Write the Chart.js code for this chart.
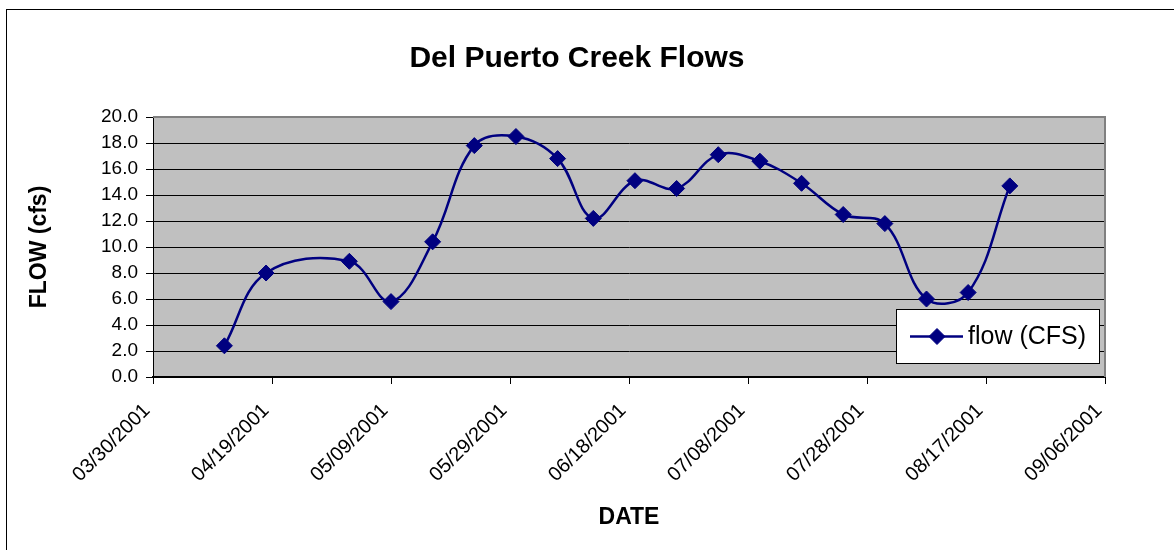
<!DOCTYPE html>
<html>
<head>
<meta charset="utf-8">
<title>Del Puerto Creek Flows</title>
<script src="https://cdn.jsdelivr.net/npm/chart.js@4.4.1/dist/chart.umd.min.js"></script>
<style>
    html, body { margin: 0; padding: 0; background: #fff; }
</style>
</head>
<body>
<canvas id="flowChart" width="1174" height="550"></canvas>
<script>
/* ---------------------------
   Data
---------------------------- */
const sampleDates = [
    "04/11/2001", "04/18/2001", "05/02/2001", "05/09/2001", "05/16/2001",
    "05/23/2001", "05/30/2001", "06/06/2001", "06/12/2001", "06/19/2001",
    "06/26/2001", "07/03/2001", "07/10/2001", "07/17/2001", "07/24/2001",
    "07/31/2001", "08/07/2001", "08/14/2001", "08/21/2001"
];
const flowValues = [
    2.4, 8.0, 8.9, 5.8, 10.4,
    17.8, 18.5, 16.8, 12.2, 15.1,
    14.5, 17.1, 16.6, 14.9, 12.5,
    11.8, 6.0, 6.5, 14.7
];
const axisDates = [
    "03/30/2001", "04/19/2001", "05/09/2001", "05/29/2001", "06/18/2001",
    "07/08/2001", "07/28/2001", "08/17/2001", "09/06/2001"
];
const seriesLabel = "flow (CFS)";
const chartTitle = "Del Puerto Creek Flows";

const FONT = "'Liberation Sans', Arial, sans-serif";
const NAVY = "#000080";

// days since the first axis date (keeps the x scale linear, like Excel's date axis)
function toDay(s) {
    const [m, d, y] = s.split("/").map(Number);
    return Date.UTC(y, m - 1, d) / 86400000;
}
const day0 = toDay(axisDates[0]);
const points = sampleDates.map((d, i) => ({ x: toDay(d) - day0, y: flowValues[i] }));
const axisDays = axisDates.map(d => toDay(d) - day0);

/* ---------------------------
   Frame, plot box, title, legend
---------------------------- */
const excelLook = {
    id: "excelLook",
    beforeDraw(chart) {
        const { ctx, chartArea: a } = chart;
        ctx.save();
        ctx.fillStyle = "#fff";
        ctx.fillRect(0, 0, chart.width, chart.height);
        ctx.strokeStyle = "#000";
        ctx.lineWidth = 1;
        ctx.strokeRect(6.5, 9.5, 1300, 700);
        ctx.fillStyle = "#c0c0c0";
        ctx.fillRect(a.left, a.top, a.right - a.left, a.bottom - a.top);
        ctx.restore();
    },
    beforeDatasetsDraw(chart) {
        const { ctx, chartArea: a } = chart;
        ctx.save();
        ctx.strokeStyle = "#808080";
        ctx.lineWidth = 2;
        ctx.beginPath();
        ctx.moveTo(a.left, a.top);
        ctx.lineTo(a.right, a.top);
        ctx.lineTo(a.right, a.bottom);
        ctx.stroke();
        ctx.restore();
    },
    afterDraw(chart) {
        const { ctx } = chart;
        const ds = chart.data.datasets[0];
        ctx.save();

        // title
        ctx.fillStyle = "#000";
        ctx.font = "bold 30px " + FONT;
        ctx.textAlign = "center";
        ctx.textBaseline = "middle";
        ctx.fillText(chartTitle, 577, 59);

        // legend box
        const lx = 896.5, ly = 309.5, lw = 203, lh = 54;
        ctx.fillStyle = "#fff";
        ctx.fillRect(lx, ly, lw, lh);
        ctx.strokeStyle = "#000";
        ctx.lineWidth = 1;
        ctx.strokeRect(lx, ly, lw, lh);

        const cy = ly + lh / 2;
        ctx.strokeStyle = ds.borderColor;
        ctx.lineWidth = ds.borderWidth;
        ctx.beginPath();
        ctx.moveTo(910, cy);
        ctx.lineTo(963, cy);
        ctx.stroke();
        ctx.fillStyle = ds.pointBackgroundColor;
        ctx.strokeStyle = ds.pointBorderColor;
        ctx.lineWidth = 1;
        Chart.helpers.drawPoint(ctx, {
            pointStyle: ds.pointStyle,
            radius: ds.pointRadius,
            borderWidth: 1
        }, 937, cy);

        ctx.fillStyle = "#000";
        ctx.font = "25px " + FONT;
        ctx.textAlign = "left";
        ctx.fillText(seriesLabel, 968, cy + 1);
        ctx.restore();
    }
};

/* ---------------------------
   Chart
---------------------------- */
const ctx = document.getElementById("flowChart").getContext("2d");

new Chart(ctx, {
    type: "line",
    data: {
        datasets: [{
            label: seriesLabel,
            data: points,
            borderColor: NAVY,
            borderWidth: 2.5,
            tension: 0.38,
            pointStyle: "rectRot",
            pointRadius: 8,
            pointBackgroundColor: NAVY,
            pointBorderColor: NAVY,
            pointBorderWidth: 1
        }]
    },
    options: {
        responsive: false,
        animation: false,
        layout: {
            padding: { left: 7, top: 117, right: 69, bottom: 0 }
        },
        scales: {
            x: {
                type: "linear",
                min: axisDays[0],
                max: axisDays[axisDays.length - 1],
                afterBuildTicks: scale => {
                    scale.ticks = axisDays.map(v => ({ value: v }));
                },
                afterFit: scale => { scale.height = 173; },
                ticks: {
                    autoSkip: false,
                    minRotation: 45,
                    maxRotation: 45,
                    padding: 15,
                    labelOffset: -6,
                    color: "#000",
                    font: { family: FONT, size: 20 },
                    callback: value => axisDates[axisDays.indexOf(value)]
                },
                grid: {
                    drawOnChartArea: false,
                    drawTicks: true,
                    tickLength: 7,
                    tickColor: "#000"
                },
                border: { color: "#000", width: 2 },
                title: {
                    display: true,
                    text: "DATE",
                    color: "#000",
                    font: { family: FONT, size: 23, weight: "bold" },
                    padding: { top: 0, bottom: 19 }
                }
            },
            y: {
                min: 0,
                max: 20,
                afterFit: scale => { scale.width = 146; },
                ticks: {
                    stepSize: 2,
                    padding: 8,
                    color: "#000",
                    font: { family: FONT, size: 19 },
                    callback: value => value.toFixed(1)
                },
                grid: {
                    color: c => (c.tick && c.tick.value === 20 ? "#808080" : "#000"),
                    lineWidth: 1,
                    tickLength: 7,
                    tickColor: "#000"
                },
                border: { color: "#000", width: 1 },
                title: {
                    display: true,
                    text: "FLOW (cfs)",
                    color: "#000",
                    font: { family: FONT, size: 23, weight: "bold" },
                    padding: { top: 19, bottom: 0 }
                }
            }
        },
        plugins: {
            legend: { display: false },
            title: { display: false },
            tooltip: { enabled: false }
        }
    },
    plugins: [excelLook]
});
</script>
</body>
</html>
